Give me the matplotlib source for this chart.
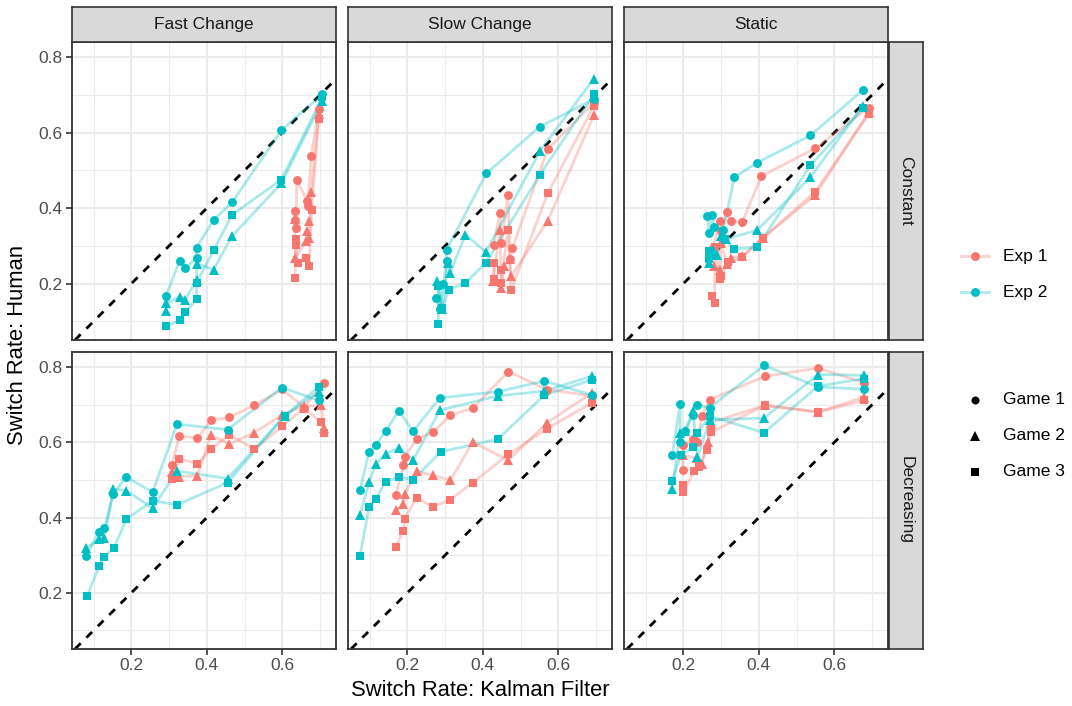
import matplotlib
matplotlib.use("Agg")
import matplotlib.pyplot as plt
import numpy as np

plt.rcParams['font.family'] = ['Liberation Sans', 'DejaVu Sans']

# ---------------- data ----------------
col_labels = ["Fast Change", "Slow Change", "Static"]
row_labels = ["Constant", "Decreasing"]
exp_labels = ["Exp 1", "Exp 2"]
game_labels = ["Game 1", "Game 2", "Game 3"]
x_ticks = [0.2, 0.4, 0.6]
y_ticks = [0.2, 0.4, 0.6, 0.8]

# Fast Change / Constant
fc_c_e1g1_x = [0.633, 0.635, 0.637, 0.639, 0.666, 0.668, 0.677, 0.697]
fc_c_e1g1_y = [0.392, 0.368, 0.348, 0.476, 0.418, 0.405, 0.538, 0.662]
fc_c_e1g2_x = [0.633, 0.635, 0.663, 0.667, 0.672, 0.672, 0.677, 0.697]
fc_c_e1g2_y = [0.370, 0.268, 0.312, 0.339, 0.366, 0.321, 0.444, 0.650]
fc_c_e1g3_x = [0.634, 0.637, 0.637, 0.641, 0.663, 0.672, 0.678, 0.697]
fc_c_e1g3_y = [0.215, 0.317, 0.301, 0.255, 0.268, 0.246, 0.396, 0.636]
fc_c_e2g1_x = [0.292, 0.328, 0.343, 0.373, 0.373, 0.418, 0.467, 0.598, 0.707]
fc_c_e2g1_y = [0.168, 0.261, 0.242, 0.268, 0.295, 0.369, 0.415, 0.607, 0.702]
fc_c_e2g2_x = [0.292, 0.292, 0.328, 0.343, 0.373, 0.373, 0.418, 0.467, 0.598, 0.707]
fc_c_e2g2_y = [0.126, 0.148, 0.164, 0.157, 0.210, 0.253, 0.237, 0.326, 0.466, 0.685]
fc_c_e2g3_x = [0.292, 0.328, 0.343, 0.373, 0.373, 0.418, 0.467, 0.598, 0.707]
fc_c_e2g3_y = [0.086, 0.102, 0.124, 0.159, 0.202, 0.288, 0.382, 0.476, 0.694]

# Slow Change / Constant
sc_c_e1g1_x = [0.429, 0.445, 0.449, 0.467, 0.472, 0.478, 0.572, 0.695]
sc_c_e1g1_y = [0.301, 0.386, 0.308, 0.435, 0.264, 0.293, 0.556, 0.680]
sc_c_e1g2_x = [0.427, 0.445, 0.449, 0.455, 0.472, 0.475, 0.572, 0.695]
sc_c_e1g2_y = [0.206, 0.342, 0.188, 0.246, 0.266, 0.219, 0.366, 0.647]
sc_c_e1g3_x = [0.429, 0.429, 0.449, 0.449, 0.466, 0.475, 0.572, 0.695]
sc_c_e1g3_y = [0.255, 0.211, 0.237, 0.202, 0.343, 0.182, 0.439, 0.671]
sc_c_e2g1_x = [0.276, 0.286, 0.295, 0.304, 0.304, 0.409, 0.551, 0.695]
sc_c_e2g1_y = [0.162, 0.133, 0.200, 0.259, 0.290, 0.492, 0.616, 0.689]
sc_c_e2g2_x = [0.278, 0.292, 0.307, 0.313, 0.354, 0.408, 0.552, 0.695]
sc_c_e2g2_y = [0.206, 0.133, 0.255, 0.228, 0.330, 0.283, 0.552, 0.744]
sc_c_e2g3_x = [0.282, 0.282, 0.292, 0.310, 0.354, 0.408, 0.551, 0.695]
sc_c_e2g3_y = [0.093, 0.193, 0.135, 0.184, 0.202, 0.255, 0.488, 0.702]

# Static / Constant
st_c_e1g1_x = [0.279, 0.297, 0.300, 0.315, 0.325, 0.356, 0.407, 0.550, 0.692]
st_c_e1g1_y = [0.295, 0.367, 0.339, 0.391, 0.367, 0.363, 0.485, 0.559, 0.667]
st_c_e1g2_x = [0.281, 0.297, 0.299, 0.315, 0.325, 0.356, 0.410, 0.550, 0.692]
st_c_e1g2_y = [0.246, 0.237, 0.308, 0.253, 0.268, 0.272, 0.320, 0.435, 0.655]
st_c_e1g3_x = [0.277, 0.283, 0.283, 0.297, 0.299, 0.317, 0.356, 0.410, 0.550, 0.692]
st_c_e1g3_y = [0.168, 0.149, 0.297, 0.212, 0.219, 0.257, 0.270, 0.320, 0.444, 0.650]
st_c_e2g1_x = [0.263, 0.268, 0.277, 0.281, 0.306, 0.335, 0.396, 0.537, 0.676]
st_c_e2g1_y = [0.379, 0.335, 0.383, 0.351, 0.342, 0.482, 0.521, 0.593, 0.713]
st_c_e2g2_x = [0.268, 0.279, 0.290, 0.300, 0.312, 0.396, 0.537, 0.676]
st_c_e2g2_y = [0.255, 0.290, 0.275, 0.325, 0.317, 0.342, 0.482, 0.671]
st_c_e2g3_x = [0.268, 0.268, 0.277, 0.310, 0.334, 0.396, 0.537, 0.676]
st_c_e2g3_y = [0.286, 0.265, 0.272, 0.317, 0.292, 0.296, 0.514, 0.665]

# Fast Change / Decreasing
fc_d_e1g1_x = [0.307, 0.327, 0.375, 0.411, 0.460, 0.526, 0.600, 0.658, 0.711]
fc_d_e1g1_y = [0.540, 0.618, 0.611, 0.659, 0.667, 0.699, 0.742, 0.693, 0.759]
fc_d_e1g2_x = [0.307, 0.327, 0.375, 0.411, 0.460, 0.526, 0.600, 0.658, 0.704, 0.711]
fc_d_e1g2_y = [0.522, 0.509, 0.512, 0.619, 0.596, 0.626, 0.674, 0.697, 0.699, 0.639]
fc_d_e1g3_x = [0.307, 0.327, 0.375, 0.411, 0.460, 0.526, 0.600, 0.658, 0.704, 0.711]
fc_d_e1g3_y = [0.503, 0.557, 0.543, 0.582, 0.621, 0.582, 0.643, 0.690, 0.655, 0.624]
fc_d_e2g1_x = [0.080, 0.114, 0.128, 0.152, 0.186, 0.256, 0.321, 0.455, 0.600, 0.697]
fc_d_e2g1_y = [0.299, 0.361, 0.371, 0.464, 0.508, 0.468, 0.649, 0.634, 0.746, 0.712]
fc_d_e2g2_x = [0.080, 0.114, 0.128, 0.152, 0.186, 0.256, 0.321, 0.455, 0.607, 0.697]
fc_d_e2g2_y = [0.319, 0.343, 0.345, 0.476, 0.472, 0.425, 0.524, 0.504, 0.671, 0.735]
fc_d_e2g3_x = [0.082, 0.114, 0.128, 0.154, 0.186, 0.256, 0.321, 0.455, 0.607, 0.697]
fc_d_e2g3_y = [0.190, 0.270, 0.296, 0.320, 0.395, 0.445, 0.434, 0.493, 0.671, 0.748]

# Slow Change / Decreasing
sc_d_e1g1_x = [0.169, 0.189, 0.193, 0.224, 0.267, 0.314, 0.373, 0.468, 0.570, 0.691]
sc_d_e1g1_y = [0.460, 0.540, 0.562, 0.608, 0.627, 0.673, 0.691, 0.789, 0.741, 0.724]
sc_d_e1g2_x = [0.169, 0.189, 0.193, 0.224, 0.267, 0.314, 0.373, 0.468, 0.570, 0.691]
sc_d_e1g2_y = [0.420, 0.435, 0.463, 0.524, 0.513, 0.499, 0.601, 0.553, 0.652, 0.733]
sc_d_e1g3_x = [0.169, 0.189, 0.193, 0.224, 0.267, 0.314, 0.373, 0.468, 0.570, 0.691]
sc_d_e1g3_y = [0.323, 0.365, 0.397, 0.453, 0.428, 0.448, 0.493, 0.568, 0.637, 0.706]
sc_d_e2g1_x = [0.074, 0.098, 0.116, 0.142, 0.177, 0.215, 0.286, 0.440, 0.563, 0.691]
sc_d_e2g1_y = [0.473, 0.575, 0.593, 0.630, 0.684, 0.630, 0.719, 0.735, 0.764, 0.726]
sc_d_e2g2_x = [0.074, 0.098, 0.116, 0.142, 0.177, 0.215, 0.286, 0.440, 0.563, 0.691]
sc_d_e2g2_y = [0.407, 0.494, 0.542, 0.570, 0.586, 0.553, 0.686, 0.724, 0.737, 0.777]
sc_d_e2g3_x = [0.074, 0.098, 0.116, 0.142, 0.177, 0.215, 0.288, 0.440, 0.563, 0.691]
sc_d_e2g3_y = [0.299, 0.428, 0.450, 0.496, 0.508, 0.501, 0.575, 0.609, 0.726, 0.767]

# Static / Decreasing
st_d_e1g1_x = [0.198, 0.200, 0.226, 0.237, 0.248, 0.270, 0.416, 0.557, 0.680]
st_d_e1g1_y = [0.527, 0.593, 0.608, 0.600, 0.670, 0.714, 0.776, 0.798, 0.759]
st_d_e1g2_x = [0.200, 0.237, 0.248, 0.264, 0.273, 0.416, 0.557, 0.680]
st_d_e1g2_y = [0.566, 0.558, 0.544, 0.600, 0.653, 0.699, 0.681, 0.721]
st_d_e1g3_x = [0.198, 0.200, 0.229, 0.242, 0.262, 0.273, 0.416, 0.557, 0.680]
st_d_e1g3_y = [0.487, 0.469, 0.524, 0.534, 0.581, 0.627, 0.699, 0.681, 0.712]
st_d_e2g1_x = [0.170, 0.191, 0.191, 0.204, 0.225, 0.235, 0.270, 0.414, 0.557, 0.678]
st_d_e2g1_y = [0.566, 0.702, 0.602, 0.630, 0.673, 0.699, 0.693, 0.805, 0.748, 0.742]
st_d_e2g2_x = [0.170, 0.191, 0.204, 0.225, 0.237, 0.270, 0.414, 0.557, 0.678]
st_d_e2g2_y = [0.476, 0.624, 0.630, 0.683, 0.562, 0.660, 0.665, 0.781, 0.779]
st_d_e2g3_x = [0.170, 0.193, 0.225, 0.237, 0.270, 0.414, 0.557, 0.678]
st_d_e2g3_y = [0.498, 0.566, 0.587, 0.626, 0.670, 0.626, 0.750, 0.770]

# table built from the arrays: panel[(row, col)][exp][game] = (x, y)
panels = {
    (0, 0): [[(fc_c_e1g1_x, fc_c_e1g1_y), (fc_c_e1g2_x, fc_c_e1g2_y), (fc_c_e1g3_x, fc_c_e1g3_y)],
             [(fc_c_e2g1_x, fc_c_e2g1_y), (fc_c_e2g2_x, fc_c_e2g2_y), (fc_c_e2g3_x, fc_c_e2g3_y)]],
    (0, 1): [[(sc_c_e1g1_x, sc_c_e1g1_y), (sc_c_e1g2_x, sc_c_e1g2_y), (sc_c_e1g3_x, sc_c_e1g3_y)],
             [(sc_c_e2g1_x, sc_c_e2g1_y), (sc_c_e2g2_x, sc_c_e2g2_y), (sc_c_e2g3_x, sc_c_e2g3_y)]],
    (0, 2): [[(st_c_e1g1_x, st_c_e1g1_y), (st_c_e1g2_x, st_c_e1g2_y), (st_c_e1g3_x, st_c_e1g3_y)],
             [(st_c_e2g1_x, st_c_e2g1_y), (st_c_e2g2_x, st_c_e2g2_y), (st_c_e2g3_x, st_c_e2g3_y)]],
    (1, 0): [[(fc_d_e1g1_x, fc_d_e1g1_y), (fc_d_e1g2_x, fc_d_e1g2_y), (fc_d_e1g3_x, fc_d_e1g3_y)],
             [(fc_d_e2g1_x, fc_d_e2g1_y), (fc_d_e2g2_x, fc_d_e2g2_y), (fc_d_e2g3_x, fc_d_e2g3_y)]],
    (1, 1): [[(sc_d_e1g1_x, sc_d_e1g1_y), (sc_d_e1g2_x, sc_d_e1g2_y), (sc_d_e1g3_x, sc_d_e1g3_y)],
             [(sc_d_e2g1_x, sc_d_e2g1_y), (sc_d_e2g2_x, sc_d_e2g2_y), (sc_d_e2g3_x, sc_d_e2g3_y)]],
    (1, 2): [[(st_d_e1g1_x, st_d_e1g1_y), (st_d_e1g2_x, st_d_e1g2_y), (st_d_e1g3_x, st_d_e1g3_y)],
             [(st_d_e2g1_x, st_d_e2g1_y), (st_d_e2g2_x, st_d_e2g2_y), (st_d_e2g3_x, st_d_e2g3_y)]],
}

# ---------------- style ----------------
exp_colors = ["#F8766D", "#00BFC4"]
game_markers = ["o", "^", "s"]
game_msize = [6.4, 7.4, 6.1]
GRID = "#EBEBEB"
DARK = "#333333"
TICKTXT = "#4D4D4D"
STRIPBG = "#D9D9D9"
FS_TICK = 12.5
FS_TITLE = 15.8

W, H = 1072, 706
fig = plt.figure(figsize=(W / 100, H / 100), dpi=100)
fig.patch.set_facecolor("white")


def rect(left, top, w, h):
    return [left / W, 1 - (top + h) / H, w / W, h / H]


col_left = [72, 348, 624]
row_top = [42, 352]
PW, PH = 264, 298

# shared limits, ggplot-like 5% expansion
all_x = np.concatenate([np.asarray(xy[0]) for p in panels.values() for e in p for xy in e])
all_y = np.concatenate([np.asarray(xy[1]) for p in panels.values() for e in p for xy in e])
xr = all_x.max() - all_x.min()
yr = all_y.max() - all_y.min()
xlim = (all_x.min() - 0.05 * xr, all_x.max() + 0.05 * xr)
ylim = (all_y.min() - 0.05 * yr, all_y.max() + 0.05 * yr)

for r in range(2):
    for c in range(3):
        ax = fig.add_axes(rect(col_left[c], row_top[r], PW, PH - (1 if r else 0)))
        ax.set_xlim(xlim)
        ax.set_ylim(ylim)
        ax.set_facecolor("white")
        ax.set_xticks(x_ticks)
        ax.set_yticks(y_ticks)
        ax.set_xticks([0.1, 0.3, 0.5, 0.7], minor=True)
        ax.set_yticks([0.1, 0.3, 0.5, 0.7], minor=True)
        ax.grid(True, which="major", color=GRID, lw=1.5, zorder=0)
        ax.grid(True, which="minor", color=GRID, lw=0.8, zorder=0)
        ax.set_axisbelow(True)
        for s in ax.spines.values():
            s.set_color(DARK)
            s.set_linewidth(1.3)
            s.set_zorder(10)
        ax.tick_params(which="minor", length=0)
        ax.tick_params(which="major", length=4, width=1.2, color=DARK,
                       labelcolor=TICKTXT, labelsize=FS_TICK, pad=2.5)
        if r == 1:
            ax.set_xticklabels([f"{t:.1f}" for t in x_ticks])
        else:
            ax.tick_params(axis="x", length=0, labelbottom=False)
        if c == 0:
            ax.set_yticklabels([f"{t:.1f}" for t in y_ticks])
        else:
            ax.tick_params(axis="y", length=0, labelleft=False)

        ax.axline((0, 0), slope=1, color="black", lw=2, dashes=(2.9, 2.9), zorder=2)

        data = panels[(r, c)]
        for e in range(2):
            for g in range(3):
                xs, ys = np.asarray(data[e][g][0]), np.asarray(data[e][g][1])
                o = np.argsort(xs, kind="stable")
                ax.plot(xs[o], ys[o], color=exp_colors[e], alpha=0.33, lw=2.0,
                        solid_capstyle="butt", zorder=3)
        for e in range(2):
            for g in range(3):
                xs, ys = data[e][g]
                ax.plot(xs, ys, ls="none", marker=game_markers[g], ms=game_msize[g],
                        mfc=exp_colors[e], mec=exp_colors[e], mew=0, zorder=4)

# top strips
for c in range(3):
    sax = fig.add_axes(rect(col_left[c], 7, PW, 35))
    sax.set_facecolor(STRIPBG)
    sax.set_xticks([]); sax.set_yticks([])
    for s in sax.spines.values():
        s.set_color(DARK); s.set_linewidth(1.2)
    sax.text(0.5, 0.5, col_labels[c], ha="center", va="center", fontsize=FS_TICK,
             color="#1A1A1A", transform=sax.transAxes)

# right strips
for r in range(2):
    sax = fig.add_axes(rect(889, row_top[r], 34, PH - (1 if r else 0)))
    sax.set_facecolor(STRIPBG)
    sax.set_xticks([]); sax.set_yticks([])
    for s in sax.spines.values():
        s.set_color(DARK); s.set_linewidth(1.2)
    sax.text(0.5, 0.5, row_labels[r], ha="center", va="center", fontsize=FS_TICK,
             color="#1A1A1A", rotation=-90, transform=sax.transAxes)

# axis titles
fig.text(480 / W, 1 - 691 / H, "Switch Rate: Kalman Filter", ha="center", va="center",
         fontsize=FS_TITLE, color="black")
fig.text(18 / W, 1 - 345 / H, "Switch Rate: Human", ha="center", va="center",
         fontsize=FS_TITLE, color="black", rotation=90)

# legends
lax = fig.add_axes([0, 0, 1, 1], zorder=20)
lax.set_xlim(0, W)
lax.set_ylim(H, 0)
lax.axis("off")
lax.patch.set_alpha(0)
for e, yy in enumerate([256, 292]):
    lax.plot([961, 989], [yy, yy], color=exp_colors[e], alpha=0.33, lw=2.0)
    lax.plot([975], [yy], marker="o", ms=game_msize[0], mfc=exp_colors[e], mec=exp_colors[e], mew=0)
    lax.text(1003, yy, exp_labels[e], ha="left", va="center", fontsize=FS_TICK, color="black")
for g, yy in enumerate([400, 436, 472]):
    lax.plot([975], [yy], marker=game_markers[g], ms=game_msize[g] * 0.9, mfc="black", mec="black", mew=0)
    lax.text(1003, yy, game_labels[g], ha="left", va="center", fontsize=FS_TICK, color="black")

fig.savefig("out.png", dpi=100, facecolor="white")
